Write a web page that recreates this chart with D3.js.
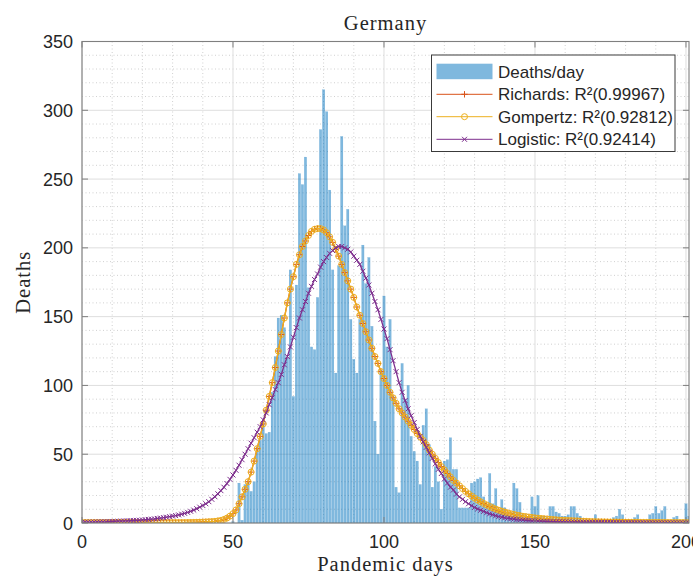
<!DOCTYPE html>
<html>
<head>
<meta charset="utf-8">
<script src="https://cdn.jsdelivr.net/npm/d3@7"></script>
<style>
  body { margin: 0; background: #fff; }
  svg { display: block; }
</style>
</head>
<body>
<script>
var width = 693,
    height = 579;

// *****
// DATA
// *****
var firstBarDay = 50;
// deaths per day, from day 50 to day 201
var deaths = [
  1, 0,
  29, 2, 28, 30, 23, 30, 55, 60,
  73, 65, 66, 95, 121, 149, 151, 142, 120, 184,
  92, 173, 254, 246, 266, 171, 128, 126, 164, 286,
  315, 299, 242, 184, 109, 187, 281, 216, 228, 148,
  119, 109, 148, 202, 174, 193, 143, 74, 50, 111,
  165, 128, 148, 92, 26, 22, 116, 90, 100, 63,
  52, 45, 28, 71, 83, 57, 26, 41, 30, 10,
  45, 46, 62, 39, 39, 11, 11, 11, 11, 29,
  30, 32, 33, 19, 13, 36, 14, 25, 9, 17,
  11, 6, 5, 29, 25, 15, 6, 4, 4, 19,
  12, 20, 5, 5, 2, 12, 12, 8, 7, 5,
  5, 6, 12, 12, 7, 5, 2, 2, 2, 2,
  6, 2, 2, 2, 2, 2, 4, 5, 10, 6,
  2, 2, 2, 4, 6, 2, 1, 1, 6, 7,
  12, 7, 9, 12, 2, 1, 4, 5, 2, 1,
  14, 5
];

// fitted curves, one value per day from day 0 to day 201
var richards = [
  0.3, 0.3, 0.3, 0.3, 0.3, 0.3, 0.3, 0.3, 0.3, 0.3,
  0.3, 0.3, 0.3, 0.3, 0.3, 0.3, 0.3, 0.3, 0.3, 0.3,
  0.3, 0.3, 0.3, 0.3, 0.3, 0.3, 0.3, 0.3, 0.3, 0.3,
  0.3, 0.3, 0.3, 0.3, 0.3, 0.35, 0.4, 0.45, 0.5, 0.6,
  0.7, 0.8, 0.9, 1.0, 1.2, 1.5, 1.9, 2.6, 3.6, 5.0,
  6.8, 9.5, 14, 19, 24.5, 30, 37, 45, 54, 63,
  72, 82, 92, 102, 113, 125, 137, 149, 160, 170,
  179, 188, 195, 201, 205, 209, 212, 213.5, 214, 214,
  213, 211, 208, 204, 199, 194, 188, 182, 176, 170,
  164, 157, 151, 145, 139, 133, 127, 121, 116, 110,
  105, 100, 95, 91, 87, 83, 80, 77, 74, 71,
  68, 65, 62.5, 60, 57, 53, 50, 47, 44, 41,
  38.5, 36, 33.5, 31, 29, 27, 25, 23, 21.2, 19.6,
  18.1, 16.7, 15.4, 14.2, 13.1, 12, 11, 10.1, 9.3, 8.6,
  7.9, 7.3, 6.7, 6.2, 5.7, 5.3, 4.9, 4.6, 4.3, 4.0,
  3.7, 3.5, 3.3, 3.1, 2.9, 2.7, 2.5, 2.3, 2.1, 2.0,
  1.9, 1.8, 1.7, 1.6, 1.5, 1.4, 1.3, 1.2, 1.1, 1.0,
  0.95, 0.9, 0.85, 0.8, 0.75, 0.7, 0.7, 0.65, 0.6, 0.6,
  0.55, 0.55, 0.5, 0.5, 0.5, 0.45, 0.45, 0.45, 0.4, 0.4,
  0.4, 0.4, 0.35, 0.35, 0.35, 0.35, 0.3, 0.3, 0.3, 0.3,
  0.3, 0.3
];

var gompertz = [
  0.3, 0.3, 0.3, 0.3, 0.3, 0.3, 0.3, 0.3, 0.3, 0.3,
  0.3, 0.3, 0.3, 0.3, 0.3, 0.3, 0.3, 0.3, 0.3, 0.3,
  0.3, 0.3, 0.3, 0.3, 0.3, 0.3, 0.3, 0.3, 0.3, 0.3,
  0.3, 0.3, 0.3, 0.3, 0.3, 0.35, 0.4, 0.45, 0.5, 0.6,
  0.7, 0.8, 0.9, 1.0, 1.2, 1.5, 1.9, 2.6, 3.6, 5.0,
  6.8, 9.5, 14, 19, 24.5, 30, 37, 45, 54, 63,
  72, 82, 92, 102, 113, 125, 137, 149, 160, 170,
  179, 188, 195, 201, 205, 209, 212, 213.5, 214, 214,
  213, 211, 208, 204, 199, 194, 188, 182, 176, 170,
  164, 157, 151, 145, 139, 133, 127, 121, 116, 110,
  105, 100, 95, 91, 87, 83, 80, 77, 74, 71,
  68, 65, 62.5, 60, 57, 53, 50, 47, 44, 41,
  38.5, 36, 33.5, 31, 29, 27, 25, 23, 21.2, 19.6,
  18.1, 16.7, 15.4, 14.2, 13.1, 12, 11, 10.1, 9.3, 8.6,
  7.9, 7.3, 6.7, 6.2, 5.7, 5.3, 4.9, 4.6, 4.3, 4.0,
  3.7, 3.5, 3.3, 3.1, 2.9, 2.7, 2.5, 2.3, 2.1, 2.0,
  1.9, 1.8, 1.7, 1.6, 1.5, 1.4, 1.3, 1.2, 1.1, 1.0,
  0.95, 0.9, 0.85, 0.8, 0.75, 0.7, 0.7, 0.65, 0.6, 0.6,
  0.55, 0.55, 0.5, 0.5, 0.5, 0.45, 0.45, 0.45, 0.4, 0.4,
  0.4, 0.4, 0.35, 0.35, 0.35, 0.35, 0.3, 0.3, 0.3, 0.3,
  0.3, 0.3
];

var logistic = [
  0.5, 0.55, 0.6, 0.65, 0.7, 0.75, 0.8, 0.85, 0.9, 1.0,
  1.1, 1.2, 1.3, 1.4, 1.5, 1.6, 1.7, 1.8, 1.9, 2.0,
  2.2, 2.4, 2.6, 2.8, 3.0, 3.3, 3.6, 3.9, 4.2, 4.6,
  5.0, 5.4, 5.9, 6.4, 7.0, 7.7, 8.5, 9.4, 10.4, 11.5,
  12.7, 14.0, 15.5, 17.2, 19.1, 21.2, 23.5, 26.0, 28.7, 31.7,
  34.9, 38.3, 42, 46, 50, 54, 58, 62, 66, 70,
  75, 80, 86, 91, 97, 102, 108, 115, 121, 128,
  135, 142, 149, 155, 161, 167, 172, 177, 181, 186,
  190, 193, 196, 198, 200, 201, 201, 200, 199, 197,
  194, 191, 188, 183, 178, 173, 167, 161, 155, 148,
  141, 134, 126, 118, 110, 102, 95, 89, 83, 78,
  73, 68, 63, 59, 55, 51, 47, 43, 39, 36,
  32, 29, 26, 24, 21, 19, 17.2, 15.5, 14, 12.6,
  11.3, 10.2, 9.3, 8.4, 7.5, 6.7, 6.0, 5.3, 4.7, 4.2,
  3.8, 3.4, 3.1, 2.8, 2.5, 2.3, 2.1, 1.9, 1.8, 1.6,
  1.5, 1.4, 1.3, 1.2, 1.1, 1.0, 0.95, 0.9, 0.85, 0.8,
  0.75, 0.7, 0.65, 0.6, 0.55, 0.5, 0.5, 0.45, 0.45, 0.4,
  0.4, 0.35, 0.35, 0.3, 0.3, 0.3, 0.25, 0.25, 0.25, 0.2,
  0.2, 0.2, 0.2, 0.2, 0.15, 0.15, 0.15, 0.15, 0.15, 0.15,
  0.1, 0.1, 0.1, 0.1, 0.1, 0.1, 0.1, 0.1, 0.1, 0.1,
  0.1, 0.1
];

var xTicks = [0, 50, 100, 150, 200];
var yTicks = [0, 50, 100, 150, 200, 250, 300, 350];

var series = [
  { name: "Richards: R\u00b2(0.99967)", values: richards, color: "#D95319", marker: "plus" },
  { name: "Gompertz: R\u00b2(0.92812)", values: gompertz, color: "#EDB120", marker: "circle" },
  { name: "Logistic: R\u00b2(0.92414)", values: logistic, color: "#7E2F8E", marker: "cross" }
];

// *****
// LAYOUT
// *****
var plot = { left: 82, right: 689, top: 41.5, bottom: 523 };
var barColor = "#0072BD";
var axisColor = "#7f7f7f";
var textColor = "#262626";

var x = d3.scaleLinear().domain([0, 201]).range([plot.left, plot.right]);
var y = d3.scaleLinear().domain([0, 350]).range([plot.bottom, plot.top]);

var svg = d3.select("body").append("svg")
    .attr("width", width)
    .attr("height", height);

svg.append("defs").append("clipPath")
    .attr("id", "plotclip")
  .append("rect")
    .attr("x", plot.left)
    .attr("y", plot.top)
    .attr("width", plot.right - plot.left)
    .attr("height", plot.bottom - plot.top);

// GRID
var grid = svg.append("g").attr("class", "grid");
var minorX = d3.range(0, 202, 10).filter(function(d) { return d % 50 != 0; });
var minorY = d3.range(0, 351, 10).filter(function(d) { return d % 50 != 0; });

grid.selectAll("line.minorx")
  .data(minorX)
  .enter().append("line")
    .attr("x1", function(d) { return x(d); })
    .attr("x2", function(d) { return x(d); })
    .attr("y1", plot.top)
    .attr("y2", plot.bottom)
    .attr("stroke", "#c4c4c4")
    .attr("stroke-width", 0.8)
    .attr("stroke-dasharray", "1,2.5");

grid.selectAll("line.minory")
  .data(minorY)
  .enter().append("line")
    .attr("x1", plot.left)
    .attr("x2", plot.right)
    .attr("y1", function(d) { return y(d); })
    .attr("y2", function(d) { return y(d); })
    .attr("stroke", "#c4c4c4")
    .attr("stroke-width", 0.8)
    .attr("stroke-dasharray", "1,2.5");

grid.selectAll("line.majorx")
  .data(xTicks)
  .enter().append("line")
    .attr("x1", function(d) { return x(d); })
    .attr("x2", function(d) { return x(d); })
    .attr("y1", plot.top)
    .attr("y2", plot.bottom)
    .attr("stroke", "#dedede")
    .attr("stroke-width", 1);

grid.selectAll("line.majory")
  .data(yTicks)
  .enter().append("line")
    .attr("x1", plot.left)
    .attr("x2", plot.right)
    .attr("y1", function(d) { return y(d); })
    .attr("y2", function(d) { return y(d); })
    .attr("stroke", "#dedede")
    .attr("stroke-width", 1);

// BARS
var barWidth = (x(1) - x(0)) * 0.8;
svg.append("g")
    .attr("clip-path", "url(#plotclip)")
  .selectAll("rect")
  .data(deaths)
  .enter().append("rect")
    .attr("x", function(d, i) { return x(firstBarDay + i) - barWidth / 2; })
    .attr("y", function(d) { return y(d); })
    .attr("width", barWidth)
    .attr("height", function(d) { return y(0) - y(d); })
    .attr("fill", barColor)
    .attr("fill-opacity", 0.5)
    .attr("stroke", barColor)
    .attr("stroke-opacity", 0.35)
    .attr("stroke-width", 0.3);

// CURVES
var line = d3.line()
    .x(function(d, i) { return x(i); })
    .y(function(d) { return y(d); });

function drawMarker(sel, type, color) {
  if (type == "circle") {
    sel.append("circle")
      .attr("r", 3)
      .attr("fill", "none")
      .attr("stroke", color)
      .attr("stroke-width", 1);
  } else if (type == "plus") {
    sel.append("path")
      .attr("d", "M-3.2,0H3.2M0,-3.2V3.2")
      .attr("stroke", color)
      .attr("stroke-width", 1);
  } else {
    sel.append("path")
      .attr("d", "M-2.5,-2.5L2.5,2.5M-2.5,2.5L2.5,-2.5")
      .attr("stroke", color)
      .attr("stroke-width", 1);
  }
}

var curves = svg.append("g").attr("clip-path", "url(#plotclip)");
series.forEach(function(s) {
  var g = curves.append("g");
  g.append("path")
    .datum(s.values)
    .attr("d", line)
    .attr("fill", "none")
    .attr("stroke", s.color)
    .attr("stroke-width", 1.3);
  var m = g.selectAll("g")
    .data(s.values)
    .enter().append("g")
    .attr("transform", function(d, i) { return "translate(" + x(i) + "," + y(d) + ")"; });
  drawMarker(m, s.marker, s.color);
});

// AXES (box with inward ticks)
var tickLen = 6;
var axes = svg.append("g");
axes.append("rect")
    .attr("x", plot.left)
    .attr("y", plot.top)
    .attr("width", plot.right - plot.left)
    .attr("height", plot.bottom - plot.top)
    .attr("fill", "none")
    .attr("stroke", axisColor)
    .attr("stroke-width", 1.1);

xTicks.forEach(function(t) {
  axes.append("line")
    .attr("x1", x(t)).attr("x2", x(t))
    .attr("y1", plot.bottom).attr("y2", plot.bottom - tickLen)
    .attr("stroke", axisColor);
  axes.append("line")
    .attr("x1", x(t)).attr("x2", x(t))
    .attr("y1", plot.top).attr("y2", plot.top + tickLen)
    .attr("stroke", axisColor);
});
yTicks.forEach(function(t) {
  axes.append("line")
    .attr("x1", plot.left).attr("x2", plot.left + tickLen)
    .attr("y1", y(t)).attr("y2", y(t))
    .attr("stroke", axisColor);
  axes.append("line")
    .attr("x1", plot.right).attr("x2", plot.right - tickLen)
    .attr("y1", y(t)).attr("y2", y(t))
    .attr("stroke", axisColor);
});

var tickFont = "'Liberation Sans', Arial, Helvetica, sans-serif";
axes.selectAll("text.xtick")
  .data(xTicks)
  .enter().append("text")
    .attr("x", function(d) { return x(d); })
    .attr("y", 548)
    .attr("text-anchor", "middle")
    .attr("font-family", tickFont)
    .attr("font-size", 18)
    .attr("fill", textColor)
    .text(function(d) { return d; });

axes.selectAll("text.ytick")
  .data(yTicks)
  .enter().append("text")
    .attr("x", 73)
    .attr("y", function(d) { return y(d) + 6.5; })
    .attr("text-anchor", "end")
    .attr("font-family", tickFont)
    .attr("font-size", 18)
    .attr("fill", textColor)
    .text(function(d) { return d; });

// TITLES
var serif = "'Liberation Serif', 'Times New Roman', serif";
svg.append("text")
    .attr("x", (plot.left + plot.right) / 2)
    .attr("y", 30)
    .attr("text-anchor", "middle")
    .attr("font-family", serif)
    .attr("font-size", 20.5)
    .attr("letter-spacing", 1)
    .attr("fill", textColor)
    .text("Germany");

svg.append("text")
    .attr("x", (plot.left + plot.right) / 2)
    .attr("y", 571)
    .attr("text-anchor", "middle")
    .attr("font-family", serif)
    .attr("font-size", 20.5)
    .attr("letter-spacing", 1)
    .attr("fill", textColor)
    .text("Pandemic days");

svg.append("text")
    .attr("transform", "translate(30," + ((plot.top + plot.bottom) / 2) + ") rotate(-90)")
    .attr("text-anchor", "middle")
    .attr("font-family", serif)
    .attr("font-size", 20.5)
    .attr("letter-spacing", 1)
    .attr("fill", textColor)
    .text("Deaths");

// LEGEND
var legend = svg.append("g").attr("transform", "translate(431.5,55)");
legend.append("rect")
    .attr("width", 243.5)
    .attr("height", 96.5)
    .attr("fill", "#fff")
    .attr("stroke", "#3a3a3a")
    .attr("stroke-width", 1);

var rowY = [16.7, 39.3, 61.7, 84.3];
legend.append("rect")
    .attr("x", 5)
    .attr("y", rowY[0] - 8)
    .attr("width", 56)
    .attr("height", 15.5)
    .attr("fill", barColor)
    .attr("fill-opacity", 0.5);

var entries = [{ name: "Deaths/day" }].concat(series);
series.forEach(function(s, i) {
  var ry = rowY[i + 1];
  legend.append("line")
    .attr("x1", 5).attr("x2", 61)
    .attr("y1", ry).attr("y2", ry)
    .attr("stroke", s.color)
    .attr("stroke-width", 1);
  var m = legend.append("g").attr("transform", "translate(33," + ry + ")");
  drawMarker(m, s.marker, s.color);
});

legend.selectAll("text")
  .data(entries)
  .enter().append("text")
    .attr("x", 66.5)
    .attr("y", function(d, i) { return rowY[i] + 6; })
    .attr("font-family", tickFont)
    .attr("font-size", 17)
    .attr("fill", textColor)
    .text(function(d) { return d.name; });
</script>
</body>
</html>
